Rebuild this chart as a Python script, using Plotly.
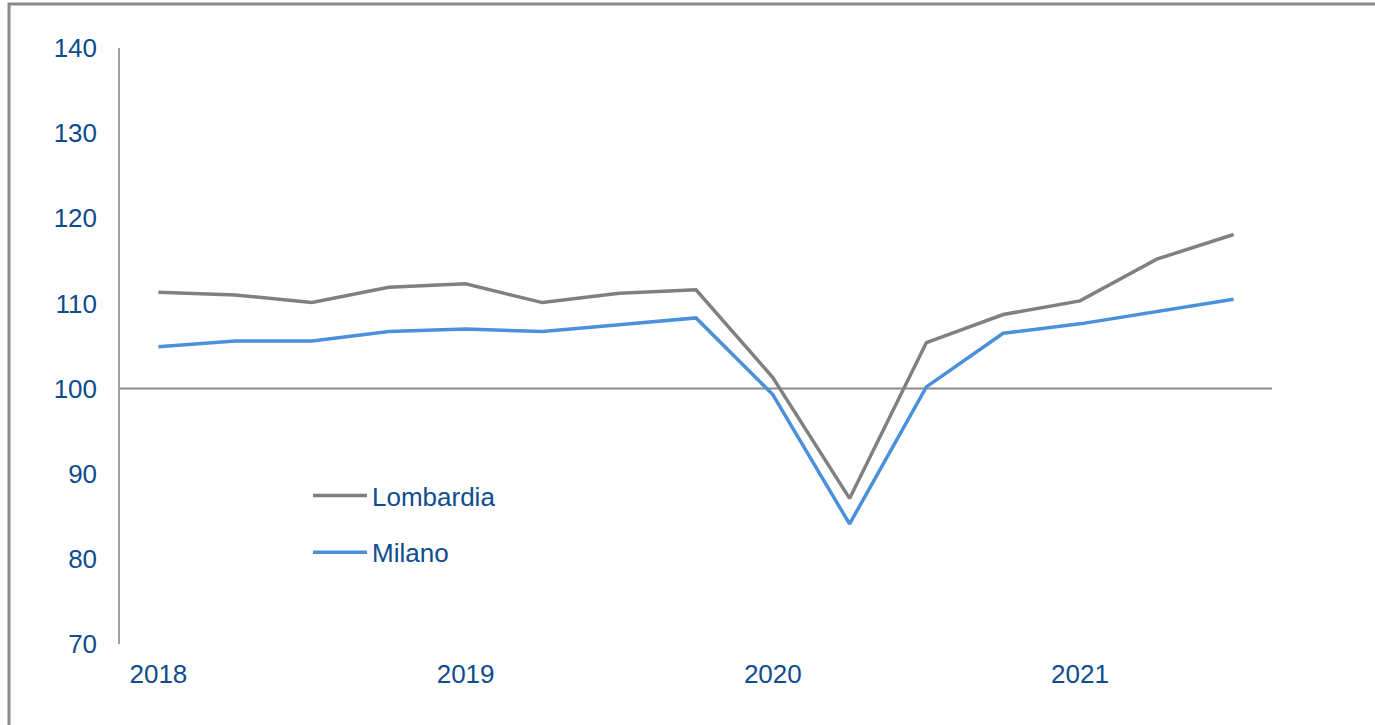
import plotly.graph_objects as go

# quarterly index, 2018 Q1 - 2021 Q3
quarters = ['2018 Q1', '2018 Q2', '2018 Q3', '2018 Q4',
            '2019 Q1', '2019 Q2', '2019 Q3', '2019 Q4',
            '2020 Q1', '2020 Q2', '2020 Q3', '2020 Q4',
            '2021 Q1', '2021 Q2', '2021 Q3']
lombardia = [111.3, 111.0, 110.1, 111.9, 112.3, 110.1, 111.2, 111.6,
             101.3, 87.1, 105.4, 108.7, 110.3, 115.2, 118.1]
milano = [104.9, 105.6, 105.6, 106.7, 107.0, 106.7, 107.5, 108.3,
          99.3, 84.1, 100.2, 106.5, 107.6, 109.0, 110.5]
year_ticks = [0, 4, 8, 12]
year_labels = ['2018', '2019', '2020', '2021']

x = list(range(len(quarters)))
txt = '#0E4C8F'
font = 'Liberation Sans, Arial, sans-serif'

fig = go.Figure()
fig.add_trace(go.Scatter(x=x, y=lombardia, name='Lombardia', mode='lines',
                         line=dict(color='#808080', width=3.5), legendgroup='a',
                         hovertext=quarters))
fig.add_trace(go.Scatter(x=x, y=milano, name='Milano', mode='lines',
                         line=dict(color='#4A90DA', width=3.5), legendgroup='b',
                         hovertext=quarters))

# reference line at 100
fig.add_shape(type='line', xref='paper', yref='y', x0=0, x1=1, y0=100, y1=100,
              line=dict(color='#8C8C8C', width=2), layer='below')
# outer frame (right and bottom sides fall outside the picture)
fig.add_shape(type='rect', xref='paper', yref='paper',
              x0=(9 - 120) / 1152, x1=2, y0=-1, y1=(644 - 4) / 596,
              line=dict(color='#8A8A8A', width=3))

fig.update_layout(
    width=1375, height=725,
    margin=dict(l=120, r=103, t=48, b=81),
    plot_bgcolor='white', paper_bgcolor='white',
    font=dict(family=font, size=26, color=txt),
    showlegend=True,
    legend=dict(x=(308 - 120) / 1152, y=(644 - 472) / 596, xanchor='left', yanchor='top',
                bgcolor='rgba(0,0,0,0)', itemwidth=54, tracegroupgap=20,
                font=dict(family=font, size=26, color=txt)),
)
fig.update_xaxes(range=[-0.5, 14.5], tickvals=year_ticks, ticktext=year_labels,
                 showgrid=False, zeroline=False, showline=False, ticks='',
                 ticklabelstandoff=12)
fig.update_yaxes(range=[70, 140], dtick=10, showgrid=False, zeroline=False,
                 showline=True, linecolor='#A0A0A0', linewidth=1.5, ticks='',
                 ticklabelstandoff=16)

fig.write_html("out.html", config={'displayModeBar': False},
               post_script="document.body.style.margin='0';")
